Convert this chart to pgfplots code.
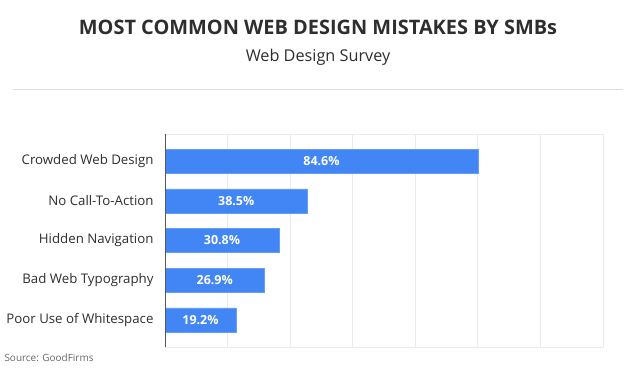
\documentclass[border=0pt]{standalone}
\usepackage{pgfplots}
\pgfplotsset{compat=1.18}
\usepackage{fontspec}
\setmainfont{Open Sans}
\definecolor{barblue}{HTML}{4285F4}
\definecolor{gridgray}{HTML}{EBEBEB}
\definecolor{txt}{HTML}{2E2E2E}
\begin{document}
\begin{tikzpicture}[x=1bp,y=1bp]
\path[use as bounding box] (0,0) rectangle (636,370);
\node[font=\fontsize{20}{24}\selectfont\bfseries, text=txt] at (318,343) {MOST COMMON WEB DESIGN MISTAKES BY SMBs};
\node[font=\fontsize{16.3}{19}\selectfont, text=txt] at (318,313) {Web Design Survey};
\draw[color={rgb,255:red,214;green,224;blue,232}, line width=0.8bp] (13,281) -- (623,281);
\begin{axis}[
  at={(165bp,23bp)}, anchor=south west,
  scale only axis, width=438bp, height=213bp,
  xmin=0, xmax=118.4, ymin=-0.68, ymax=4.68,
  y dir=reverse,
  xtick={0,16.914,33.829,50.743,67.657,84.571,101.486,118.4},
  xticklabels={},
  ytick={0,1,2,3,4},
  yticklabels={Crowded Web Design, No Call-To-Action, Hidden Navigation, Bad Web Typography, Poor Use of Whitespace},
  yticklabel style={font=\fontsize{13.3}{15}\selectfont, text=txt, xshift=-8bp},
  major tick length=0pt,
  xmajorgrids, grid style={gridgray, line width=0.8bp},
  axis line style={gridgray, line width=0.8bp},
  clip=false,
]
\addplot[xbar, bar width=24bp, fill=barblue, draw=barblue!80!white] coordinates {(84.6,0) (38.5,1) (30.8,2) (26.9,3) (19.2,4)};
\addplot[draw=none, mark=none, nodes near coords, point meta=explicit symbolic,
  every node near coord/.style={anchor=center, text=white, font=\fontsize{12.5}{14}\selectfont\bfseries}]
  coordinates {(42.3,0) [84.6\%] (19.25,1) [38.5\%] (15.4,2) [30.8\%] (13.45,3) [26.9\%] (9.6,4) [19.2\%]};
\draw[color=black!65, line width=0.9bp] (axis cs:0,-0.68) -- (axis cs:0,4.68);
\end{axis}
\node[anchor=west, font=\fontsize{10}{12}\selectfont, text=black!60] at (1,12) {Source: GoodFirms};
\end{tikzpicture}
\end{document}
